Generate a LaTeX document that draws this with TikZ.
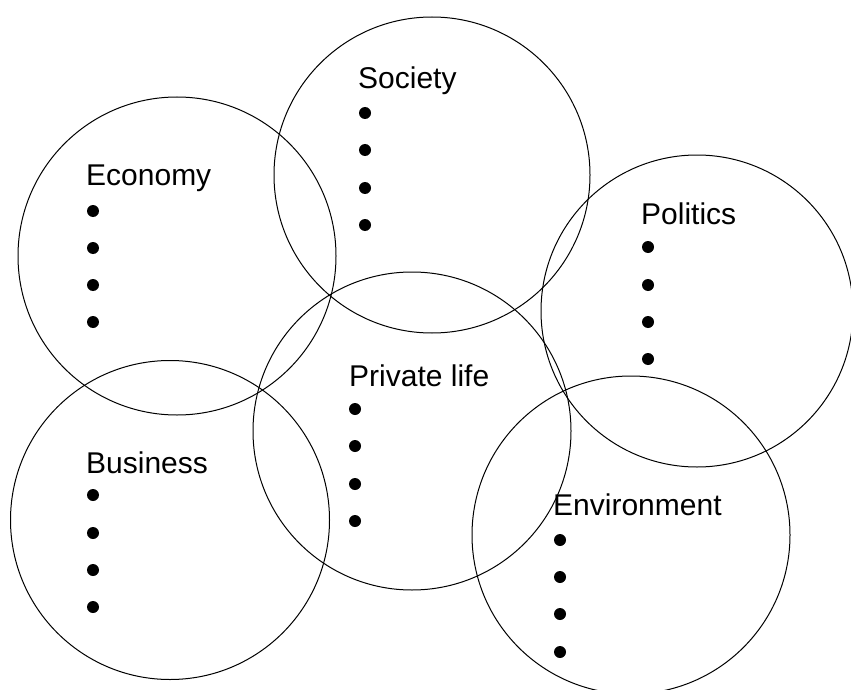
\documentclass[tikz,border=0pt]{standalone}
\usepackage{fontspec}
\setmainfont{Liberation Sans}
\begin{document}
\begin{tikzpicture}[x=1pt,y=-1pt,
  ring/.style={draw=black,line width=1pt,circle,minimum size=#1,inner sep=0pt},
  lab/.style={anchor=base west,inner sep=0pt,font=\fontsize{30}{35}\selectfont},
  dot/.style={fill=black,circle,minimum size=12pt,inner sep=0pt}]
\useasboundingbox (0,0) rectangle (851,690);
\begin{scope}
\clip (0,0) rectangle (851,690);
\node[ring=318pt] (ceco) at (177,256) {};
\node[ring=316pt] (csoc) at (432,175) {};
\node[ring=312pt] (cpol) at (697,311) {};
\node[ring=318pt] (cpri) at (412,431) {};
\node[ring=319pt] (cbus) at (170,520) {};
\node[ring=318pt] (cenv) at (631,535) {};
\end{scope}
% labels
\node[lab] (leco) at (86,185) {Economy};
\node[lab] (lsoc) at (358,89) {Society};
\node[lab] (lpol) at (641,224) {Politics};
\node[lab] (lpri) at (349,386) {Private life};
\node[lab] (lbus) at (86,473) {Business};
\node[lab] (lenv) at (553,515) {Environment};
% bullets
\foreach \i/\y in {1/211,2/248,3/285,4/322} \node[dot] (beco\i) at (93,\y) {};
\foreach \i/\y in {1/113,2/150,3/188,4/225} \node[dot] (bsoc\i) at (365,\y) {};
\foreach \i/\y in {1/247,2/285,3/322,4/359} \node[dot] (bpol\i) at (648,\y) {};
\foreach \i/\y in {1/409,2/446,3/484,4/521} \node[dot] (bpri\i) at (355,\y) {};
\foreach \i/\y in {1/495,2/533,3/570,4/607} \node[dot] (bbus\i) at (93,\y) {};
\foreach \i/\y in {1/540,2/577,3/614,4/652} \node[dot] (benv\i) at (560,\y) {};
\end{tikzpicture}
\end{document}
